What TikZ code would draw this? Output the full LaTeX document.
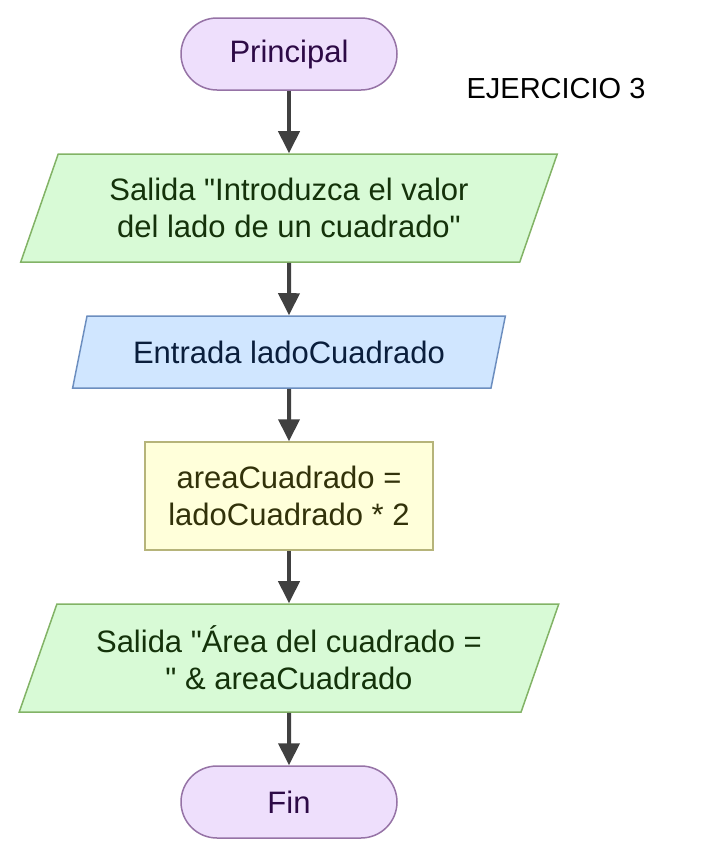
\documentclass[tikz,border=0pt]{standalone}
\usepackage{fontspec}
\newfontfamily\letra{Liberation Sans}
\usetikzlibrary{shapes.geometric,arrows.meta}

\definecolor{termfill}{RGB}{238,223,252}
\definecolor{termline}{RGB}{150,115,166}
\definecolor{termtext}{RGB}{45,10,70}
\definecolor{outfill}{RGB}{216,250,214}
\definecolor{outline}{RGB}{130,179,102}
\definecolor{outtext}{RGB}{20,50,10}
\definecolor{infill}{RGB}{208,230,255}
\definecolor{inline}{RGB}{108,142,191}
\definecolor{intext}{RGB}{10,30,60}
\definecolor{procfill}{RGB}{255,255,218}
\definecolor{procline}{RGB}{182,180,122}
\definecolor{proctext}{RGB}{50,50,10}
\definecolor{flowarrow}{RGB}{64,64,64}

\tikzset{
  terminal/.style = {draw = termline, fill = termfill, text = termtext, line width = 1.5pt,
    rectangle, rounded corners = 36pt, minimum width = 216pt, minimum height = 72pt},
  datos/.style = {trapezium, trapezium left angle = 64, trapezium right angle = 116,
    trapezium stretches = true, line width = 1.5pt, align = center, inner sep = 0pt},
  salida/.style = {datos, draw = outline, fill = outfill, text = outtext},
  entrada/.style = {datos, draw = inline, fill = infill, text = intext},
  proceso/.style = {draw = procline, fill = procfill, text = proctext, line width = 1.5pt,
    rectangle, align = center, minimum width = 288pt, minimum height = 108pt},
  flecha/.style = {draw = flowarrow, line width = 4pt,
    -{Triangle[length = 22pt, width = 21pt]}}
}

\begin{document}
\begin{tikzpicture}[x = 1pt, y = -1pt, font = \letra\fontsize{31}{37}\selectfont]
        \useasboundingbox (0,0) rectangle (710,863);

        \node[terminal] (principal) at (289,54) {Principal};
        \node[salida, minimum width = 540pt, minimum height = 108pt] (salida1) at (289,208)
            {Salida "Introduzca el valor\\ del lado de un cuadrado"};
        \node[entrada, minimum width = 433pt, minimum height = 72pt] (entrada) at (289,352)
            {Entrada ladoCuadrado};
        \node[proceso] (calculo) at (289,496) {areaCuadrado =\\ ladoCuadrado * 2};
        \node[salida, minimum width = 540pt, minimum height = 108pt] (salida2) at (289,658)
            {Salida "Área del cuadrado =\\ " \& areaCuadrado};
        \node[terminal] (fin) at (289,802) {Fin};

        \node[font = \letra\fontsize{29}{35}\selectfont] (titulo) at (556,89) {EJERCICIO 3};

        \draw[flecha] (principal) -- (salida1);
        \draw[flecha] (salida1) -- (entrada);
        \draw[flecha] (entrada) -- (calculo);
        \draw[flecha] (calculo) -- (salida2);
        \draw[flecha] (salida2) -- (fin);
\end{tikzpicture}
\end{document}
